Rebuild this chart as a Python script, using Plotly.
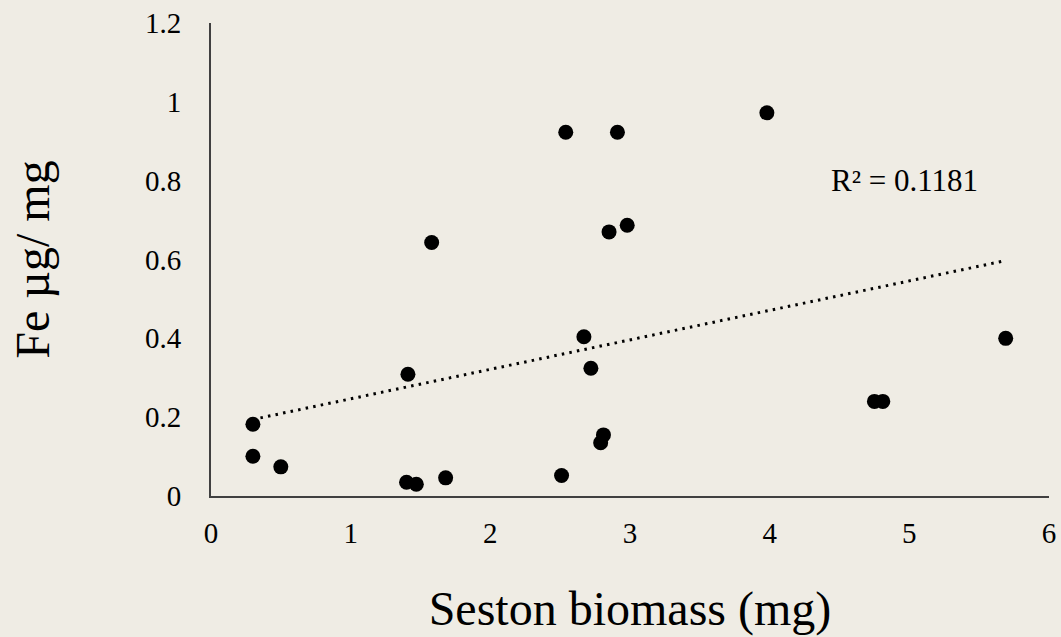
import numpy as np
import plotly.graph_objects as go

# Data
seston_mg = [2.54, 1.58, 0.30, 0.30, 0.50, 1.41, 1.40, 1.47, 1.68, 2.51, 2.67, 2.72,
             2.81, 2.79, 2.91, 3.98, 2.85, 2.98, 5.69, 4.75, 4.81]
fe_ug_mg = [0.923, 0.643, 0.182, 0.101, 0.074, 0.309, 0.035, 0.030, 0.046, 0.052, 0.404, 0.324,
            0.155, 0.135, 0.923, 0.972, 0.670, 0.687, 0.400, 0.240, 0.240]
x_ticks = [0, 1, 2, 3, 4, 5, 6]
y_ticks = [0, 0.2, 0.4, 0.6, 0.8, 1, 1.2]
y_tick_text = ["0", "0.2", "0.4", "0.6", "0.8", "1", "1.2"]
r2_label = "R² = 0.1181"

x = np.array(seston_mg)
y = np.array(fe_ug_mg)
slope, intercept = np.polyfit(x, y, 1)
tx = np.array([x.min(), x.max()])
ty = slope * tx + intercept

bg = "#EFECE4"
font_family = "Liberation Serif, Times New Roman, serif"

fig = go.Figure()
fig.add_trace(go.Scatter(x=tx, y=ty, mode="lines",
                         line=dict(color="black", width=3, dash="2.5px,5.2px"),
                         hoverinfo="skip", showlegend=False))
fig.add_trace(go.Scatter(x=seston_mg, y=fe_ug_mg, mode="markers",
                         marker=dict(color="black", size=15),
                         showlegend=False))

fig.add_annotation(x=4.965, y=0.80, text=r2_label, showarrow=False,
                   font=dict(family=font_family, size=31, color="black"))

fig.update_layout(
    width=1061, height=637,
    paper_bgcolor=bg, plot_bgcolor=bg,
    margin=dict(l=211, r=12, t=23, b=141, autoexpand=False),
    font=dict(family=font_family, color="black"),
    showlegend=False,
)
fig.update_xaxes(range=[0, 6], tickvals=x_ticks, showgrid=False, zeroline=False,
                 showline=True, linecolor="#404040", linewidth=2, ticks="",
                 automargin=False, ticklabelstandoff=10,
                 tickfont=dict(family=font_family, size=29, color="black"),
                 title=dict(text="Seston biomass (mg)", standoff=44,
                            font=dict(family=font_family, size=48, color="black")))
fig.update_yaxes(range=[0, 1.2], tickvals=y_ticks, ticktext=y_tick_text, showgrid=False,
                 zeroline=False, showline=True, linecolor="#404040", linewidth=2, ticks="",
                 automargin=False, ticklabelstandoff=22,
                 tickfont=dict(family=font_family, size=29, color="black"),
                 title=dict(text="Fe µg/ mg", standoff=80,
                            font=dict(family=font_family, size=48, color="black")))

fig.write_html("out.html")
